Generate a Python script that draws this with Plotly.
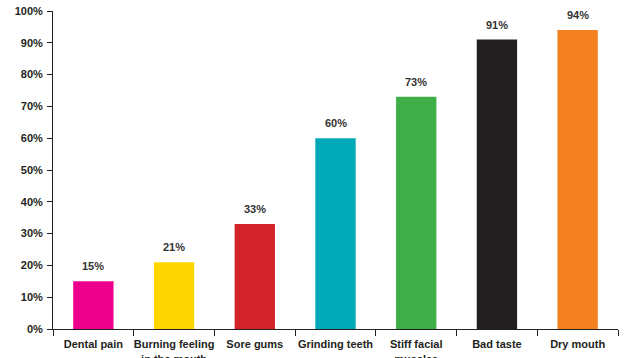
import plotly.graph_objects as go

categories = ["Dental pain", "Burning feeling<br>in the mouth", "Sore gums", "Grinding teeth",
              "Stiff facial<br>muscles", "Bad taste", "Dry mouth"]
values = [15, 21, 33, 60, 73, 91, 94]
labels = ["15%", "21%", "33%", "60%", "73%", "91%", "94%"]
colors = ["#EC008C", "#FFD600", "#D2232A", "#00A9B7", "#3FAE49", "#231F20", "#F58220"]
y_ticks = [0, 10, 20, 30, 40, 50, 60, 70, 80, 90, 100]
y_tick_text = [f"{t}%" for t in y_ticks]

fig = go.Figure(go.Bar(
    x=categories, y=values, marker=dict(color=colors, line=dict(width=0)),
    width=0.5, cliponaxis=False,
))

for c, v, t in zip(categories, values, labels):
    fig.add_annotation(x=c, y=v, text=t, showarrow=False, yanchor="bottom", yshift=7,
                       font=dict(family="Liberation Sans", size=11, color="#333333", weight="bold"))

fig.update_layout(
    width=624, height=358,
    margin=dict(l=53, r=6, t=11, b=29),
    paper_bgcolor="white", plot_bgcolor="white",
    font=dict(family="Liberation Sans", size=11, color="#231F20"),
    showlegend=False,
)
fig.update_xaxes(
    type="category", range=[-0.5, 6.5], showline=True, linecolor="#231F20", linewidth=1,
    ticks="outside", tickson="boundaries", ticklen=6, tickcolor="#231F20",
    tickangle=0, automargin=False, ticklabelstandoff=5,
    showgrid=False, tickfont=dict(family="Liberation Sans", size=11, color="#231F20", weight="bold"),
)
fig.update_yaxes(
    range=[0, 100], tickvals=y_ticks, ticktext=y_tick_text, showline=True,
    linecolor="#231F20", linewidth=1, ticks="outside", ticklen=5, tickcolor="#231F20",
    showgrid=False, zeroline=False, automargin=False, ticklabelstandoff=2,
    tickfont=dict(family="Liberation Sans", size=11, color="#231F20", weight="bold"),
)
fig.write_html("out.html")
